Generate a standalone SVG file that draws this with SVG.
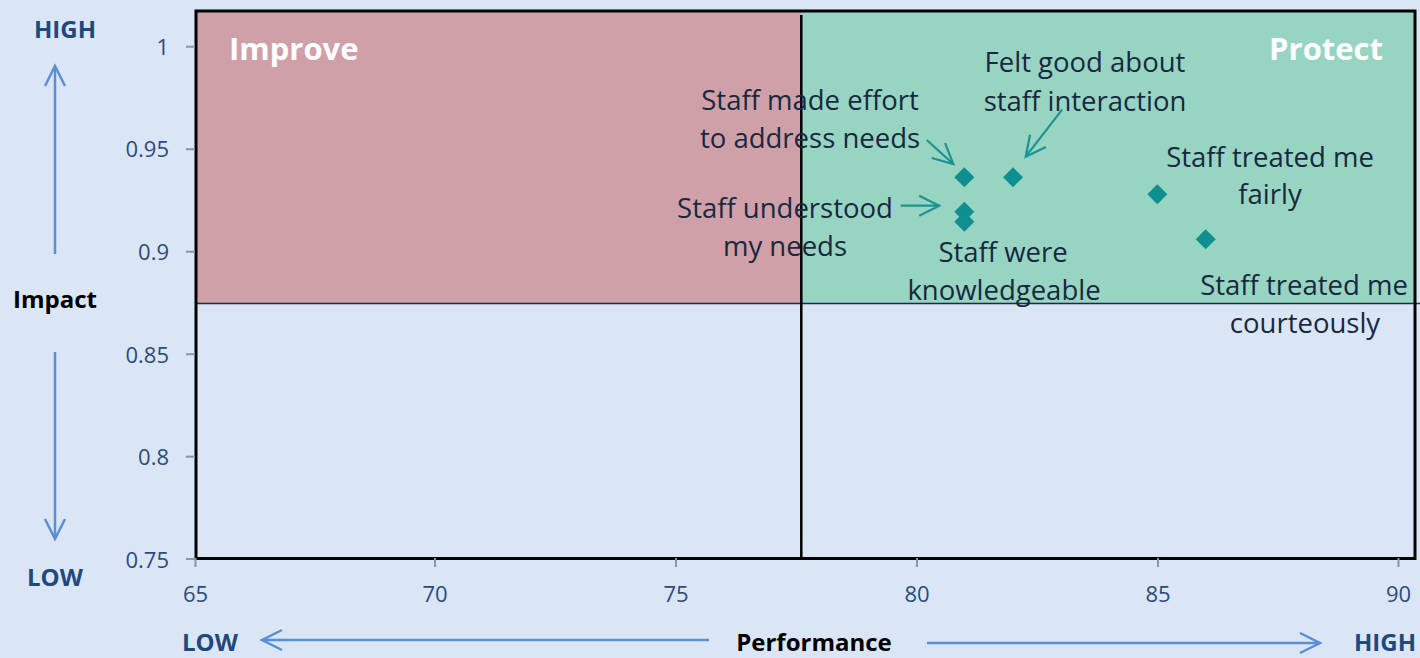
<svg xmlns="http://www.w3.org/2000/svg" width="1420" height="658" viewBox="0 0 1420 658">
<defs>
<style>
.lbl{font-family:"Open Sans","DejaVu Sans",sans-serif;font-size:27.5px;fill:#17283f;text-anchor:middle}
.tick{font-family:"Open Sans","DejaVu Sans",sans-serif;font-size:22px;fill:#2b4b7d}
.ytick{text-anchor:end}
.xtick{text-anchor:middle}
.quad{font-family:"Open Sans","DejaVu Sans",sans-serif;font-size:31px;font-weight:bold;fill:#ffffff}
.hl{font-family:"Open Sans","DejaVu Sans",sans-serif;font-size:24px;font-weight:bold;fill:#1f497d}
.ttl{font-family:"Open Sans","DejaVu Sans",sans-serif;font-size:24px;font-weight:bold;fill:#000000}
.pt{fill:#0f8f8f}
.tarrow{stroke:#1a9494;stroke-width:2.2;fill:none;marker-end:url(#tHead)}
.barrow{stroke:#5a8fd6;stroke-width:2.5;fill:none;marker-end:url(#bHead)}
.tk{stroke:#8c96a0;stroke-width:2}
</style>
<marker id="tHead" viewBox="-1 -1 22 22" refX="20" refY="10" markerWidth="22" markerHeight="22" markerUnits="userSpaceOnUse" orient="auto" overflow="visible">
<path d="M0,0 L20,10 L0,20" fill="none" stroke="#1a9494" stroke-width="2.2"/>
</marker>
<marker id="bHead" viewBox="-1 -1 22 22" refX="20" refY="10" markerWidth="22" markerHeight="22" markerUnits="userSpaceOnUse" orient="auto" overflow="visible">
<path d="M0,0 L20,10 L0,20" fill="none" stroke="#5a8fd6" stroke-width="2.5"/>
</marker>
</defs>
<rect x="0" y="0" width="1420" height="658" fill="#dae6f5"/>

<g id="plot-area">
<rect x="197" y="12" width="604" height="291.5" fill="#d0a0a9"/>
<rect x="801" y="12" width="613" height="291.5" fill="#98d4c2"/>
<line x1="197" y1="303.5" x2="1420" y2="303.5" stroke="#1b2b45" stroke-width="1.6"/>
<line x1="801.3" y1="15" x2="801.3" y2="558" stroke="#000" stroke-width="2.5"/>
<rect x="196" y="11" width="1219" height="547.5" fill="none" stroke="#000" stroke-width="3"/>
</g>

<g id="y-axis">
<line class="tk" x1="186" y1="46.7" x2="195" y2="46.7"/>
<line class="tk" x1="186" y1="149.2" x2="195" y2="149.2"/>
<line class="tk" x1="186" y1="251.7" x2="195" y2="251.7"/>
<line class="tk" x1="186" y1="354.2" x2="195" y2="354.2"/>
<line class="tk" x1="186" y1="456.7" x2="195" y2="456.7"/>
<line class="tk" x1="186" y1="559" x2="195" y2="559"/>
<text class="tick ytick" x="169" y="54.5">1</text>
<text class="tick ytick" x="169" y="157">0.95</text>
<text class="tick ytick" x="169" y="259.5">0.9</text>
<text class="tick ytick" x="169" y="362.5">0.85</text>
<text class="tick ytick" x="169" y="465">0.8</text>
<text class="tick ytick" x="169" y="567.5">0.75</text>
<text class="hl" x="65" y="38" text-anchor="middle">HIGH</text>
<text class="ttl" x="55" y="308" text-anchor="middle">Impact</text>
<text class="hl" x="55" y="586" text-anchor="middle">LOW</text>
</g>

<g id="x-axis">
<line class="tk" x1="195.5" y1="558" x2="195.5" y2="567"/>
<line class="tk" x1="435" y1="558" x2="435" y2="567"/>
<line class="tk" x1="676" y1="558" x2="676" y2="567"/>
<line class="tk" x1="917" y1="558" x2="917" y2="567"/>
<line class="tk" x1="1158" y1="558" x2="1158" y2="567"/>
<line class="tk" x1="1398.5" y1="558" x2="1398.5" y2="567"/>
<text class="tick xtick" x="195.5" y="602">65</text>
<text class="tick xtick" x="435" y="602">70</text>
<text class="tick xtick" x="676" y="602">75</text>
<text class="tick xtick" x="917" y="602">80</text>
<text class="tick xtick" x="1158" y="602">85</text>
<text class="tick xtick" x="1398.5" y="602">90</text>
<text class="hl" x="210" y="651" text-anchor="middle">LOW</text>
<text class="ttl" x="814" y="651" text-anchor="middle">Performance</text>
<text class="hl" x="1385" y="651" text-anchor="middle">HIGH</text>
</g>

<g id="quadrant-labels">
<text class="quad" x="229" y="60">Improve</text>
<text class="quad" x="1383" y="60" text-anchor="end">Protect</text>
</g>

<g id="connectors">
<line class="barrow" x1="55" y1="254" x2="55" y2="66"/>
<line class="barrow" x1="55" y1="352" x2="55" y2="539"/>
<line class="barrow" x1="709" y1="640" x2="262" y2="640"/>
<line class="barrow" x1="927" y1="643" x2="1320" y2="643"/>
<line class="tarrow" x1="926.7" y1="140" x2="953.3" y2="164"/>
<line class="tarrow" x1="1062.3" y1="109.3" x2="1025.7" y2="156.7"/>
<line class="tarrow" x1="900.7" y1="205.7" x2="939.3" y2="205.7"/>
</g>

<g id="node-made-effort">
<path class="pt" d="M964.3,167.3 L974.3,177.3 L964.3,187.3 L954.3,177.3 Z"/>
<text class="lbl" x="810" y="110">Staff made effort</text>
<text class="lbl" x="810" y="148">to address needs</text>
</g>
<g id="node-felt-good">
<path class="pt" d="M1013,167.3 L1023,177.3 L1013,187.3 L1003,177.3 Z"/>
<text class="lbl" x="1085" y="72">Felt good about</text>
<text class="lbl" x="1085" y="111">staff interaction</text>
</g>
<g id="node-understood">
<path class="pt" d="M964.3,201.7 L974.3,211.7 L964.3,221.7 L954.3,211.7 Z"/>
<text class="lbl" x="785" y="218">Staff understood</text>
<text class="lbl" x="785" y="256">my needs</text>
</g>
<g id="node-knowledgeable">
<path class="pt" d="M964.3,211.7 L974.3,221.7 L964.3,231.7 L954.3,221.7 Z"/>
<text class="lbl" x="1003" y="262">Staff were</text>
<text class="lbl" x="1004" y="300">knowledgeable</text>
</g>
<g id="node-fairly">
<path class="pt" d="M1157.3,184.3 L1167.3,194.3 L1157.3,204.3 L1147.3,194.3 Z"/>
<text class="lbl" x="1270" y="167">Staff treated me</text>
<text class="lbl" x="1270" y="204">fairly</text>
</g>
<g id="node-courteously">
<path class="pt" d="M1205.7,229.3 L1215.7,239.3 L1205.7,249.3 L1195.7,239.3 Z"/>
<text class="lbl" x="1304" y="295">Staff treated me</text>
<text class="lbl" x="1305" y="333">courteously</text>
</g>
</svg>
